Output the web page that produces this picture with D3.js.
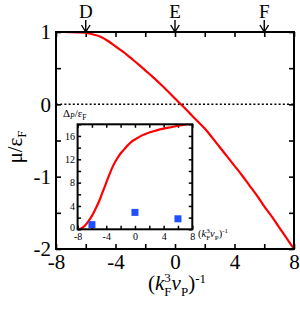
<!DOCTYPE html>
<html>
<head>
<meta charset="utf-8">
<script src="https://cdn.jsdelivr.net/npm/d3@7"></script>
<style>
body { margin: 0; background: #fff; }
svg { display: block; }
</style>
</head>
<body>
<svg width="300" height="311" font-family="Liberation Serif"></svg>
<script>
// main panel: mu / eps_F vs (kF^3 vP)^-1
const muX = [-8, -7.5, -7, -6.5, -6, -5.5, -5, -4.5, -4, -3.5, -3, -2.5, -2, -1.5, -1, -0.5, 0, 0.5, 1, 1.5, 2, 2.5, 3, 3.5, 4, 4.5, 5, 5.5, 6, 6.5, 7, 7.5, 8];
const muY = [1.0, 1.0, 0.998, 0.995, 0.99, 0.965, 0.935, 0.875, 0.80, 0.73, 0.645, 0.56, 0.47, 0.38, 0.285, 0.185, 0.08, -0.02, -0.125, -0.23, -0.335, -0.46, -0.59, -0.72, -0.85, -0.98, -1.12, -1.26, -1.41, -1.55, -1.70, -1.85, -2.0];
const markers = ["D", "E", "F"];
const markerX = [-6, 0, 6];
const xLabels = [-8, -4, 0, 4, 8];
const yLabels = [-2, -1, 0, 1];

// inset: Delta_P / eps_F
const gapX = [-8, -7.5, -7, -6.5, -6, -5.5, -5, -4.5, -4, -3.5, -3, -2.5, -2, -1.5, -1, -0.5, 0, 1, 2, 3, 4, 5, 6, 7, 8];
const gapY = [0, 0.15, 0.6, 1.35, 2.3, 3.5, 4.8, 6.4, 8.0, 9.6, 11.0, 12.1, 13.0, 13.7, 14.4, 15.0, 15.4, 16.1, 16.6, 16.95, 17.25, 17.5, 17.75, 17.95, 18.1];
const dotX = [-6, 0, 6];
const dotY = [0.8, 2.9, 1.8];
const insetXLabels = [-8, -4, 0, 4, 8];
const insetYLabels = [0, 4, 8, 12, 16];

const serif = "'Liberation Serif', 'Times New Roman', Times, serif";
const svg = d3.select("svg");

const x = d3.scaleLinear([-8, 8], [56, 294]);
const y = d3.scaleLinear([-2, 1], [249, 32]);

// ticks, inward, on all four sides
const xt = d3.range(-8, 8.01, 2);
const yt = d3.range(-2, 1.01, 0.5);
const axB = svg.append("g").attr("transform", "translate(0,249)")
    .call(d3.axisBottom(x).tickValues(xt).tickSize(-5).tickPadding(5)
        .tickFormat(d => xLabels.includes(d) ? String(d) : ""));
const axT = svg.append("g").attr("transform", "translate(0,32)")
    .call(d3.axisTop(x).tickValues(xt).tickSize(-5).tickFormat(""));
const axL = svg.append("g").attr("transform", "translate(56,0)")
    .call(d3.axisLeft(y).tickValues(yt).tickSize(-5).tickPadding(5)
        .tickFormat(d => yLabels.includes(d) ? String(d) : ""));
const axR = svg.append("g").attr("transform", "translate(294,0)")
    .call(d3.axisRight(y).tickValues(yt).tickSize(-5).tickFormat(""));
for (const a of [axB, axT, axL, axR]) {
    a.select(".domain").remove();
    a.attr("font-family", null);
    a.selectAll("line").attr("stroke", "#000").attr("stroke-width", 1.6);
    a.selectAll("text").attr("font-size", 21).attr("fill", "#000").style("font-family", serif);
}

// zero line
svg.append("line")
    .attr("x1", x(-8)).attr("x2", x(8)).attr("y1", y(0)).attr("y2", y(0))
    .attr("stroke", "#000").attr("stroke-width", 1.5).attr("stroke-dasharray", "2,2.2");

// mu curve
const muLine = d3.line().x(d => x(d[0])).y(d => y(d[1])).curve(d3.curveMonotoneX);
svg.append("path")
    .datum(d3.zip(muX, muY))
    .attr("d", muLine)
    .attr("fill", "none").attr("stroke", "#ff0000").attr("stroke-width", 2.2);

// frame
svg.append("rect")
    .attr("x", 56).attr("y", 32).attr("width", 238).attr("height", 217)
    .attr("fill", "none").attr("stroke", "#000").attr("stroke-width", 2);

// D E F arrows
markerX.forEach((m, i) => {
    const cx = x(m);
    svg.append("path")
        .attr("d", `M${cx},20 L${cx},32 M${cx - 4.3},25 L${cx},32 L${cx + 4.3},25`)
        .attr("fill", "none").attr("stroke", "#000").attr("stroke-width", 1.4);
    svg.append("text").attr("x", cx).attr("y", 18)
        .attr("text-anchor", "middle").attr("font-size", 19)
        .style("font-family", serif)
        .text(markers[i]);
});

// y title
const yt1 = svg.append("text")
    .attr("transform", "translate(22,147) rotate(-90)")
    .attr("text-anchor", "middle").attr("font-size", 21)
    .style("font-family", serif);
yt1.append("tspan").text("μ/ε");
yt1.append("tspan").attr("font-size", 13).attr("dy", 4).text("F");

// x title, subscripts stacked under superscripts
function kvLabel(t, big, small) {
    t.style("font-family", serif);
    t.append("tspan").text("(");
    t.append("tspan").attr("font-style", "italic").text("k");
    t.append("tspan").attr("font-size", small).attr("dy", -0.38 * big).text("3");
    t.append("tspan").attr("font-size", small).attr("dx", -0.5 * small).attr("dy", 0.68 * big).text("F");
    t.append("tspan").attr("font-style", "italic").attr("dy", -0.3 * big).text("ν");
    t.append("tspan").attr("font-size", small).attr("dy", 0.3 * big).text("P");
    t.append("tspan").attr("dy", -0.3 * big).text(")");
    t.append("tspan").attr("font-size", small).attr("dy", -0.35 * big).text("-1");
}
kvLabel(svg.append("text").attr("x", 177).attr("y", 290).attr("text-anchor", "middle").attr("font-size", 21), 21, 13);

// ---- inset ----
const ix = d3.scaleLinear([-8, 8], [77.6, 192.3]);
const iy = d3.scaleLinear([0, 18], [229.3, 124.3]);
const inset = svg.append("g");

inset.append("rect")
    .attr("x", 77.6).attr("y", 124.3).attr("width", 192.3 - 77.6).attr("height", 229.3 - 124.3)
    .attr("fill", "#fff");

const ixt = d3.range(-8, 8.01, 2);
const iyt = d3.range(0, 18.01, 2);
const iB = inset.append("g").attr("transform", "translate(0,229.3)")
    .call(d3.axisBottom(ix).tickValues(ixt).tickSize(-3.5).tickPadding(4)
        .tickFormat(d => insetXLabels.includes(d) ? String(d) : ""));
const iT = inset.append("g").attr("transform", "translate(0,124.3)")
    .call(d3.axisTop(ix).tickValues(ixt).tickSize(-3.5).tickFormat(""));
const iL = inset.append("g").attr("transform", "translate(77.6,0)")
    .call(d3.axisLeft(iy).tickValues(iyt).tickSize(-3.5).tickPadding(2.5)
        .tickFormat(d => insetYLabels.includes(d) ? String(d) : ""));
const iR = inset.append("g").attr("transform", "translate(192.3,0)")
    .call(d3.axisRight(iy).tickValues(iyt).tickSize(-3.5).tickFormat(""));
for (const a of [iB, iT, iL, iR]) {
    a.select(".domain").remove();
    a.attr("font-family", null);
    a.selectAll("line").attr("stroke", "#000").attr("stroke-width", 1.5);
    a.selectAll("text").attr("font-size", 10).attr("fill", "#000").style("font-family", serif);
}
// lift the inset's y "0" a little so it clears the "-8" below it
iL.selectAll("text").filter(d => d === 0).attr("dy", "0.1em");

inset.append("clipPath").attr("id", "ic").append("rect")
    .attr("x", 77.6).attr("y", 124.3).attr("width", 192.3 - 77.6).attr("height", 229.3 - 124.3);

const gapLine = d3.line().x(d => ix(d[0])).y(d => iy(d[1])).curve(d3.curveMonotoneX);
inset.append("path")
    .datum(d3.zip(gapX, gapY))
    .attr("clip-path", "url(#ic)")
    .attr("d", gapLine)
    .attr("fill", "none").attr("stroke", "#ff0000").attr("stroke-width", 2.2);

inset.selectAll("rect.dot")
    .data(d3.zip(dotX, dotY))
    .join("rect").attr("class", "dot")
    .attr("x", d => ix(d[0]) - 3.5).attr("y", d => iy(d[1]) - 3.5)
    .attr("width", 7).attr("height", 7)
    .attr("fill", "#1f4fff");

inset.append("rect")
    .attr("x", 77.6).attr("y", 124.3).attr("width", 192.3 - 77.6).attr("height", 229.3 - 124.3)
    .attr("fill", "none").attr("stroke", "#000").attr("stroke-width", 2);

const dl = inset.append("text").attr("x", 63).attr("y", 117).attr("font-size", 11)
    .style("font-family", serif);
dl.append("tspan").text("Δ");
dl.append("tspan").attr("font-size", 7.5).attr("font-style", "italic").attr("dy", 2).text("P");
dl.append("tspan").attr("dy", -2).text("/ε");
dl.append("tspan").attr("font-size", 7.5).attr("dy", 2.5).text("F");

kvLabel(inset.append("text").attr("x", 198).attr("y", 237).attr("font-size", 10.5), 10.5, 7);
</script>
</body>
</html>
